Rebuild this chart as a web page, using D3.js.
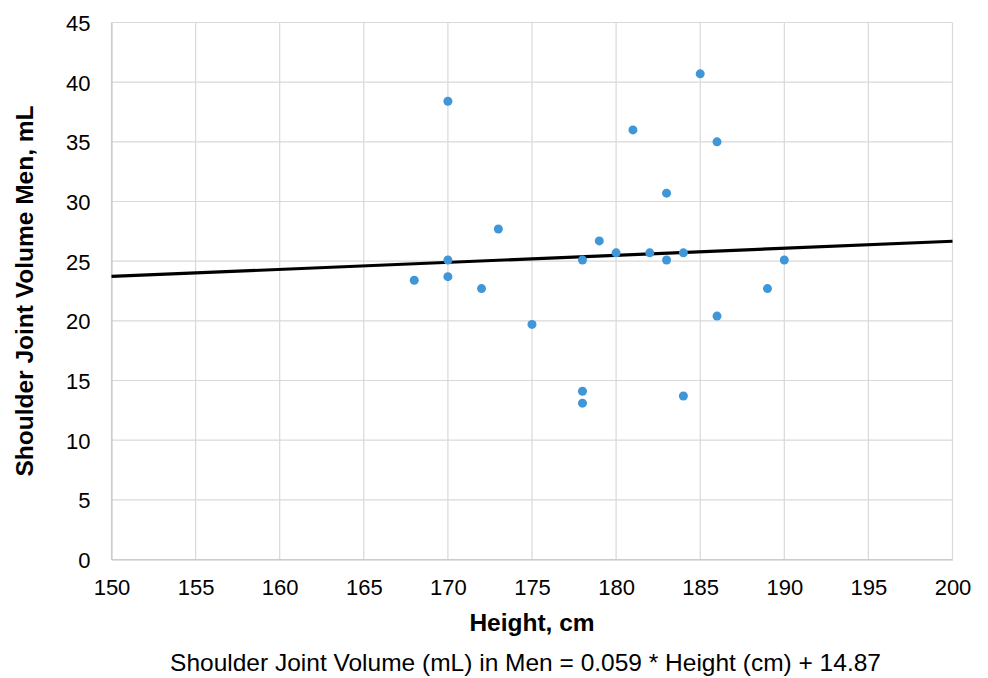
<!DOCTYPE html>
<html lang="en">
<head>
    <meta charset="utf-8" />
    <title>Shoulder Joint Volume vs Height</title>
    <script src="https://d3js.org/d3.v7.min.js"></script>
    <style>
        body {
            margin: 0;
            padding: 0;
            background: #ffffff;
            font-family: "Liberation Sans", Arial, sans-serif;
        }
    </style>
</head>
<body>
<svg id="chart"></svg>
<script>
    var w = 988;
    var h = 678;

    // Height (cm) of each man
    var heights = [170, 185, 181, 186, 183, 173, 179, 180, 182, 184, 170, 178, 183, 190,
                   168, 170, 172, 189, 175, 186, 178, 178, 184];
    // Shoulder joint volume (mL)
    var volumes = [38.4, 40.7, 36.0, 35.0, 30.7, 27.7, 26.7, 25.7, 25.7, 25.7, 25.1, 25.1, 25.1, 25.1,
                   23.4, 23.7, 22.7, 22.7, 19.7, 20.4, 14.1, 13.1, 13.7];
    // Trend line: slope and intercept
    var slope = 0.059;
    var intercept = 14.87;

    var xTicks = [150, 155, 160, 165, 170, 175, 180, 185, 190, 195, 200];
    var yTicks = [0, 5, 10, 15, 20, 25, 30, 35, 40, 45];

    var margin = {top: 22.5, right: 35.5, bottom: 118.5, left: 111.5};

    var svg = d3.select("#chart")
                .attr("width", w)
                .attr("height", h);

    var xScale = d3.scaleLinear()
                .domain([150, 200])
                .range([margin.left, w - margin.right]);

    var yScale = d3.scaleLinear()
                .domain([0, 45])
                .range([h - margin.bottom, margin.top]);

    // Gridlines
    svg.append("g")
        .selectAll("line")
        .data(xTicks)
        .enter().append("line")
        .attr("x1", function(d) { return xScale(d); })
        .attr("x2", function(d) { return xScale(d); })
        .attr("y1", yScale(0))
        .attr("y2", yScale(45))
        .attr("stroke", "#d9d9d9")
        .attr("stroke-width", 1.2);

    svg.append("g")
        .selectAll("line")
        .data(yTicks)
        .enter().append("line")
        .attr("x1", xScale(150))
        .attr("x2", xScale(200))
        .attr("y1", function(d) { return yScale(d); })
        .attr("y2", function(d) { return yScale(d); })
        .attr("stroke", "#d9d9d9")
        .attr("stroke-width", 1.2);

    // Axes (labels only, lines drawn by grid)
    var xAxis = svg.append("g")
        .attr("transform", "translate(0," + yScale(0) + ")")
        .call(d3.axisBottom(xScale).tickValues(xTicks).tickSize(0).tickPadding(20));
    xAxis.select(".domain").attr("stroke", "#bfbfbf");

    var yAxis = svg.append("g")
        .attr("transform", "translate(" + xScale(150) + ",0)")
        .call(d3.axisLeft(yScale).tickValues(yTicks).tickSize(0).tickPadding(21));
    yAxis.select(".domain").attr("stroke", "#bfbfbf");

    svg.selectAll(".tick text")
        .attr("font-family", "'Liberation Sans', Arial, sans-serif")
        .attr("font-size", "22px")
        .attr("fill", "#000");
    yAxis.selectAll(".tick text").attr("dy", "0.36em");

    // Trend line
    svg.append("line")
        .attr("x1", xScale(150))
        .attr("y1", yScale(slope * 150 + intercept))
        .attr("x2", xScale(200))
        .attr("y2", yScale(slope * 200 + intercept))
        .attr("stroke", "#000")
        .attr("stroke-width", 3.2);

    // Points
    svg.append("g")
        .selectAll("circle")
        .data(heights)
        .enter().append("circle")
        .attr("cx", function(d) { return xScale(d); })
        .attr("cy", function(d, i) { return yScale(volumes[i]); })
        .attr("r", 4.5)
        .attr("fill", "#3f97d8");

    // Axis titles
    svg.append("text")
        .attr("x", (xScale(150) + xScale(200)) / 2)
        .attr("y", 631)
        .attr("text-anchor", "middle")
        .attr("font-size", "24.5px")
        .attr("font-weight", "bold")
        .text("Height, cm");

    svg.append("text")
        .attr("transform", "translate(33," + (yScale(0) + yScale(45)) / 2 + ") rotate(-90)")
        .attr("text-anchor", "middle")
        .attr("font-size", "24.5px")
        .attr("font-weight", "bold")
        .text("Shoulder Joint Volume Men, mL");

    // Equation note
    svg.append("text")
        .attr("x", 525.5)
        .attr("y", 670.5)
        .attr("text-anchor", "middle")
        .attr("font-size", "24.5px")
        .text("Shoulder Joint Volume (mL) in Men = 0.059 * Height (cm) + 14.87");
</script>
</body>
</html>
